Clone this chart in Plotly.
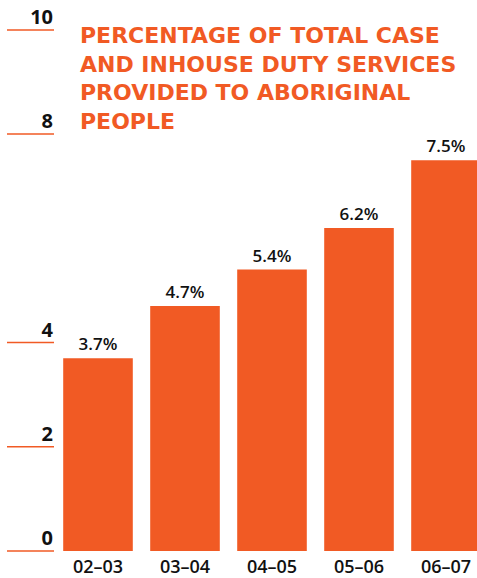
import plotly.graph_objects as go

# Share of total case and in-house duty services provided to Aboriginal people
years = ["02–03", "03–04", "04–05", "05–06", "06–07"]
share_pct = [3.7, 4.7, 5.4, 6.2, 7.5]
y_ticks = [0, 2, 4, 8, 10]

TITLE = ("PERCENTAGE OF TOTAL CASE<br>AND INHOUSE DUTY SERVICES<br>"
         "PROVIDED TO ABORIGINAL<br>PEOPLE")

ORANGE = "#F15A24"
FONT = "Open Sans"
WIDE = "DejaVu Sans"

W, H = 477, 578
ML, MB = 56, 22
plot_w = W - ML
plot_h = H - MB
unit_px = 87.0
x0_px = 42.0   # centre of first bar inside the plot area
px_per_pct = 52.3
zero_px = 553  # distance of the zero line from the top edge

fig = go.Figure()
fig.add_trace(go.Bar(
    x=list(range(len(years))),
    y=share_pct,
    width=0.8,
    marker=dict(color=ORANGE, line=dict(width=0)),
    text=[f"{v}%" for v in share_pct],
    textposition="outside",
    textfont=dict(family=FONT, size=17, color="#111111", weight=600),
    cliponaxis=False,
    hoverinfo="skip",
))

# short orange rules under each y tick label
for t in y_ticks:
    fig.add_shape(type="line", xref="paper", yref="y",
                  x0=(7 - ML) / plot_w, x1=(54 - ML) / plot_w, y0=t, y1=t,
                  line=dict(color=ORANGE, width=1.5))

ymax = zero_px / px_per_pct
ymin = ymax - plot_h / px_per_pct

fig.update_layout(
    width=W, height=H,
    margin=dict(l=ML, r=0, t=0, b=MB),
    paper_bgcolor="white", plot_bgcolor="white",
    showlegend=False,
    xaxis=dict(
        range=[-x0_px / unit_px, (plot_w - x0_px) / unit_px],
        tickvals=list(range(len(years))), ticktext=years,
        ticks="", showline=False, showgrid=False, zeroline=False,
        ticklabelstandoff=0,
        tickfont=dict(family=FONT, size=18, color="#111111", weight=600),
    ),
    yaxis=dict(
        range=[ymin, ymax],
        tickvals=y_ticks, ticktext=[str(t) for t in y_ticks],
        ticks="", showline=False, showgrid=False, zeroline=False,
        tickfont=dict(family=FONT, size=20, color="#111111", weight=700),
        ticklabelshift=-13, ticklabelstandoff=2,
    ),
    annotations=[dict(
        text=TITLE,
        xref="paper", yref="paper",
        x=(78 - ML) / plot_w, y=1 - 21 / plot_h,
        xanchor="left", yanchor="top", align="left", showarrow=False,
        font=dict(family=WIDE, size=22, color=ORANGE, weight=700),
    )],
)

fig.write_html("out.html")
